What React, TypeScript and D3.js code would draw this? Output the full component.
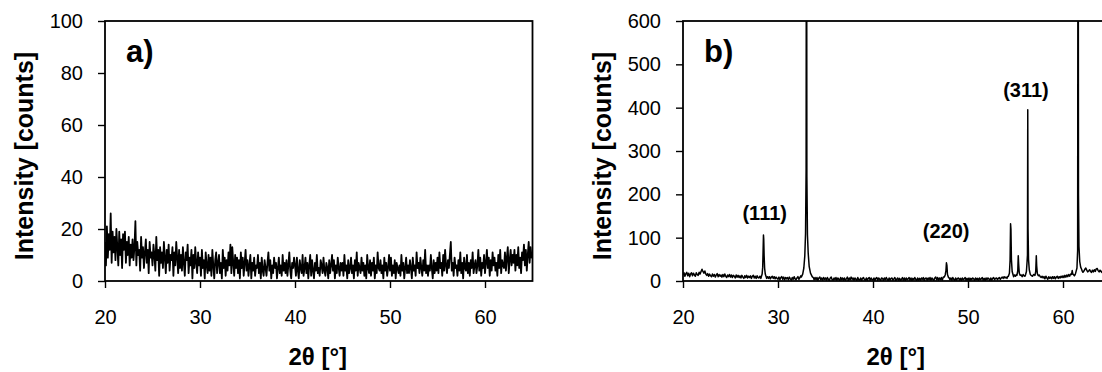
import React, { useEffect, useRef } from 'react'
import * as d3 from 'd3'

// 2-theta sampling of both scans
const startAngle = 20
const stepAngle = 0.1

const xTicks = [20, 30, 40, 50, 60]
const yTicksA = [0, 20, 40, 60, 80, 100]
const yTicksB = [0, 100, 200, 300, 400, 500, 600]

// scan a) - one row per degree, 0.1 deg steps
const countsA = [
  15, 6, 21, 9, 18, 12, 26, 7, 19, 11,
  17, 8, 20, 13, 6, 19, 10, 16, 5, 18,
  12, 19, 7, 15, 10, 17, 6, 14, 9, 16,
  8, 13, 23, 6, 15, 10, 12, 4, 17, 9,
  13, 5, 11, 16, 7, 12, 3, 15, 9, 11,
  6, 14, 10, 4, 17, 8, 12, 2, 13, 7,
  11, 5, 15, 9, 3, 12, 7, 14, 4, 10,
  8, 13, 2, 11, 6, 15, 9, 3, 12, 5,
  10, 4, 13, 7, 2, 11, 8, 14, 3, 9,
  6, 12, 1, 10, 5, 13, 7, 3, 11, 6,
  9, 2, 12, 5, 8, 1, 11, 6, 3, 10,
  4, 9, 2, 12, 6, 1, 8, 11, 3, 7,
  10, 3, 7, 1, 12, 5, 9, 2, 8, 4,
  11, 6, 14, 3, 13, 7, 2, 10, 5, 9,
  3, 8, 1, 11, 5, 9, 2, 7, 12, 4,
  8, 2, 6, 10, 1, 7, 4, 9, 2, 6,
  5, 10, 3, 7, 1, 9, 4, 2, 8, 5,
  2, 7, 11, 4, 8, 1, 6, 3, 9, 5,
  7, 1, 5, 9, 3, 6, 2, 10, 4, 7,
  3, 8, 2, 6, 11, 4, 1, 7, 5, 9,
  6, 2, 9, 4, 1, 8, 5, 3, 10, 2,
  5, 9, 3, 7, 1, 6, 10, 2, 8, 4,
  1, 7, 4, 10, 3, 5, 2, 8, 6, 3,
  9, 4, 2, 7, 5, 1, 8, 3, 6, 10,
  4, 8, 1, 6, 3, 9, 5, 2, 7, 4,
  7, 2, 10, 4, 6, 1, 8, 3, 5, 9,
  3, 6, 1, 8, 4, 11, 2, 7, 5, 3,
  9, 4, 7, 2, 6, 1, 10, 5, 3, 8,
  2, 7, 4, 9, 1, 6, 3, 11, 5, 4,
  8, 3, 6, 1, 9, 4, 7, 2, 5, 10,
  4, 9, 2, 6, 3, 8, 1, 7, 5, 3,
  6, 2, 10, 4, 7, 1, 5, 9, 3, 6,
  3, 8, 5, 1, 9, 4, 6, 2, 11, 5,
  7, 3, 9, 5, 2, 8, 4, 12, 3, 6,
  2, 6, 4, 10, 5, 1, 8, 3, 7, 4,
  9, 3, 11, 5, 7, 2, 10, 4, 12, 6,
  3, 8, 5, 10, 15, 4, 7, 2, 9, 5,
  6, 2, 8, 4, 11, 3, 7, 1, 9, 5,
  4, 10, 3, 7, 2, 8, 5, 11, 3, 6,
  8, 3, 6, 12, 4, 9, 2, 7, 5, 10,
  3, 7, 12, 5, 9, 2, 8, 4, 11, 6,
  9, 4, 7, 2, 10, 5, 12, 3, 8, 6,
  5, 11, 4, 9, 13, 3, 8, 12, 6, 10,
  7, 12, 4, 10, 6, 13, 5, 9, 3, 11,
  8, 14, 6, 12, 4, 10, 15, 7, 13, 9,
  11
]

// scan b) background, 0.1 deg steps
const countsB = [
  14, 19, 11, 17, 20, 12, 18, 10, 16, 19,
  12, 18, 14, 11, 19, 15, 13, 20, 16, 22,
  27, 22, 18, 23, 16, 13, 17, 11, 16, 12,
  10, 16, 11, 15, 9, 14, 17, 10, 15, 11,
  14, 9, 15, 10, 16, 11, 8, 14, 10, 15,
  9, 14, 8, 13, 11, 7, 14, 9, 13, 8,
  12, 7, 13, 9, 6, 12, 8, 13, 7, 11,
  8, 12, 6, 11, 13, 7, 11, 6, 12, 8,
  7, 11, 6, 10, 12, 8, 8, 12, 6, 10,
  6, 10, 5, 9, 11, 6, 10, 5, 9, 6,
  4, 9, 3, 8, 10, 4, 9, 3, 8, 5,
  8, 3, 9, 5, 2, 8, 4, 10, 5, 3,
  7, 10, 4, 8, 12, 6, 7, 8, 9, 10,
  9, 8, 7, 4, 9, 3, 8, 5, 3, 8,
  3, 8, 2, 7, 9, 3, 7, 2, 8, 4,
  7, 2, 8, 4, 1, 7, 9, 3, 2, 7,
  3, 8, 2, 7, 4, 1, 8, 3, 7, 2,
  7, 2, 5, 9, 1, 7, 3, 9, 4, 7,
  2, 7, 4, 1, 8, 3, 2, 7, 1, 6,
  8, 3, 2, 7, 1, 6, 8, 2, 7, 3,
  2, 7, 1, 6, 8, 2, 7, 4, 1, 7,
  6, 1, 7, 3, 8, 4, 1, 7, 2, 6,
  7, 2, 5, 8, 1, 4, 7, 2, 6, 1,
  4, 8, 2, 7, 1, 7, 3, 5, 8, 2,
  7, 1, 6, 3, 8, 4, 1, 7, 2, 6,
  2, 7, 4, 8, 1, 6, 7, 2, 7, 3,
  8, 2, 7, 4, 1, 7, 9, 3, 8, 2,
  7, 3, 8, 2, 9, 5, 9, 12, 14, 10,
  8, 3, 7, 2, 8, 4, 1, 7, 2, 6,
  7, 2, 6, 1, 7, 3, 5, 8, 2, 6,
  2, 7, 1, 6, 3, 7, 5, 1, 7, 3,
  6, 1, 7, 3, 5, 8, 2, 6, 1, 7,
  3, 7, 5, 1, 7, 2, 6, 8, 3, 6,
  7, 3, 6, 8, 4, 7, 9, 6, 10, 7,
  9, 6, 11, 8, 13, 15, 11, 15, 10, 14,
  11, 15, 10, 14, 16, 11, 14, 10, 15, 12,
  11, 16, 12, 10, 15, 18, 14, 12, 11, 15,
  14, 10, 15, 11, 9, 14, 10, 8, 11, 7,
  10, 5, 11, 7, 4, 10, 6, 9, 5, 10,
  6, 10, 5, 9, 11, 6, 10, 7, 11, 8,
  12, 8, 13, 9, 14, 10, 15, 11, 16, 18,
  20, 15, 12, 16, 18, 19, 25, 22, 24, 21,
  24, 20, 23, 27, 30, 25, 21, 23, 26, 22,
  20, 25, 21, 26, 22, 28, 29, 24, 21, 25,
  22, 20, 26, 21, 27, 23, 28, 24, 29, 25,
  27
]

// reflections of scan b), finer sampling [2theta, counts]
const peaksB: [number, number][][] = [
  [[28.25, 10], [28.33, 16], [28.39, 32], [28.43, 68], [28.47, 106], [28.5, 96], [28.54, 58], [28.59, 30], [28.66, 16], [28.75, 10]],
  [[32.45, 9], [32.6, 16], [32.72, 30], [32.82, 58], [32.9, 110], [32.96, 260], [33.0, 1400], [33.04, 240], [33.1, 106], [33.18, 64], [33.28, 34], [33.42, 18], [33.6, 10], [33.75, 7]],
  [[47.5, 9], [47.6, 14], [47.68, 24], [47.73, 42], [47.78, 36], [47.84, 15], [47.95, 8]],
  [[54.25, 11], [54.36, 18], [54.43, 48], [54.48, 132], [54.52, 120], [54.57, 50], [54.65, 22], [54.75, 14]],
  [[55.15, 13], [55.24, 24], [55.29, 58], [55.33, 40], [55.4, 18], [55.5, 13]],
  [[56.05, 14], [56.15, 22], [56.22, 45], [56.26, 60], [56.29, 395], [56.32, 120], [56.37, 50], [56.45, 26], [56.55, 16]],
  [[57.05, 13], [57.13, 22], [57.19, 58], [57.23, 35], [57.3, 17], [57.4, 12]],
  [[60.9, 15], [60.97, 24], [61.03, 16]],
  [[61.35, 20], [61.47, 30], [61.54, 70], [61.59, 1300], [61.63, 200], [61.68, 80], [61.76, 45], [61.86, 32], [61.98, 26]]
]

const peakNames = ['(111)', '(220)', '(311)']
const peakNameAngles = [28.6, 47.7, 56.1]
const peakNameCounts = [140, 100, 425]

const FONT = '"Liberation Sans", Arial, sans-serif'

function drawPanel(svg, opts) {
  const { id, x, y, yTicks, data, tag, lineWidth } = opts
  const [x0, x1] = x.range()
  const [y0, y1] = y.range()

  const g = svg.append('g')

  g.append('clipPath').attr('id', id)
    .append('rect')
    .attr('x', x0).attr('y', y1)
    .attr('width', x1 - x0).attr('height', y0 - y1)

  const line = d3.line()
    .x(d => x(d[0]))
    .y(d => y(d[1]))

  g.append('path')
    .datum(data)
    .attr('clip-path', `url(#${id})`)
    .attr('fill', 'none')
    .attr('stroke', '#000')
    .attr('stroke-width', lineWidth)
    .attr('stroke-linejoin', 'round')
    .attr('d', line)

  // frame
  g.append('rect')
    .attr('x', x0).attr('y', y1)
    .attr('width', x1 - x0).attr('height', y0 - y1)
    .attr('fill', 'none')
    .attr('stroke', '#000')
    .attr('stroke-width', 1.8)

  const xAxis = g.append('g')
    .attr('transform', `translate(0,${y0})`)
    .call(d3.axisBottom(x).tickValues(xTicks).tickSize(7).tickPadding(22).tickFormat(d3.format('d')))
  xAxis.select('.domain').remove()
  xAxis.selectAll('text').attr('font-size', 20).attr('font-family', FONT).attr('fill', '#000')
  xAxis.selectAll('line').attr('stroke-width', 1.4)

  const yAxis = g.append('g')
    .attr('transform', `translate(${x0},0)`)
    .call(d3.axisLeft(y).tickValues(yTicks).tickSize(7).tickPadding(15).tickFormat(d3.format('d')))
  yAxis.select('.domain').remove()
  yAxis.selectAll('text').attr('font-size', 20).attr('font-family', FONT).attr('fill', '#000')
  yAxis.selectAll('line').attr('stroke-width', 1.4)

  g.append('text')
    .attr('transform', `translate(${x0 - 72},${(y0 + y1) / 2 + 5}) rotate(-90)`)
    .attr('text-anchor', 'middle')
    .attr('font-family', FONT)
    .attr('font-weight', 'bold')
    .attr('font-size', 25)
    .text('Intensity [counts]')

  g.append('text')
    .attr('x', (x0 + x1) / 2 - 1)
    .attr('y', 365)
    .attr('text-anchor', 'middle')
    .attr('font-family', FONT)
    .attr('font-weight', 'bold')
    .attr('font-size', 24)
    .text('2θ [°]')

  g.append('text')
    .attr('x', x0 + 21)
    .attr('y', 62)
    .attr('font-family', FONT)
    .attr('font-weight', 'bold')
    .attr('font-size', 31)
    .text(tag)

  return g
}

export default function App() {
  const ref = useRef(null)

  useEffect(() => {
    const svg = d3.select(ref.current)
    svg.selectAll('*').remove()

    const dataA = countsA.map((c, i) => [startAngle + i * stepAngle, c])

    const background = countsB
      .map((c, i) => [+(startAngle + i * stepAngle).toFixed(2), c])
      .filter(p => !peaksB.some(pk => p[0] >= pk[0][0] && p[0] <= pk[pk.length - 1][0]))
    const dataB = background.concat(...peaksB).sort((a, b) => a[0] - b[0])

    const xA = d3.scaleLinear().domain([20, 65]).range([105, 532.5])
    const yA = d3.scaleLinear().domain([0, 100]).range([281, 21])
    const xB = d3.scaleLinear().domain([20, 65]).range([683, 1110.5])
    const yB = d3.scaleLinear().domain([0, 600]).range([281, 21])

    drawPanel(svg, { id: 'clipA', x: xA, y: yA, yTicks: yTicksA, data: dataA, tag: 'a)', lineWidth: 1.8 })
    const gb = drawPanel(svg, { id: 'clipB', x: xB, y: yB, yTicks: yTicksB, data: dataB, tag: 'b)', lineWidth: 1.5 })

    gb.selectAll('.peak-name')
      .data(peakNames)
      .enter()
      .append('text')
      .attr('class', 'peak-name')
      .attr('x', (d, i) => xB(peakNameAngles[i]))
      .attr('y', (d, i) => yB(peakNameCounts[i]))
      .attr('text-anchor', 'middle')
      .attr('font-family', FONT)
      .attr('font-weight', 'bold')
      .attr('font-size', 20)
      .text(d => d)
  }, [])

  return (
    <svg
      ref={ref}
      width={1102}
      height={372}
      style={{ position: 'absolute', left: 0, top: 0, background: '#fff' }}
    />
  )
}
